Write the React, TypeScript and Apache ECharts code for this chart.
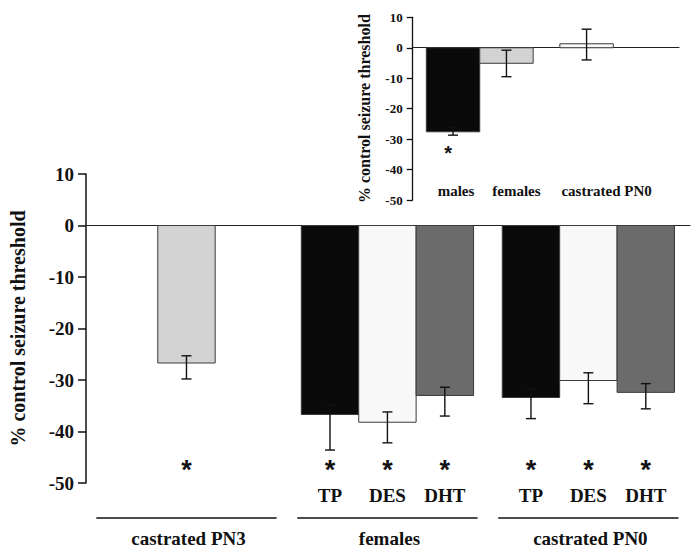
import React, { useEffect, useRef } from 'react';
import * as echarts from 'echarts';

// ---- main chart data ----
const mainGroups = ['castrated PN3', 'females', 'castrated PN0'];
const mainGroupOf = [0, 1, 1, 1, 2, 2, 2];
const mainTreatments = ['', 'TP', 'DES', 'DHT', 'TP', 'DES', 'DHT'];
const mainValues = [-26.7, -36.7, -38.2, -33.0, -33.4, -30.1, -32.4];
const mainErrLow = [-29.8, -43.6, -42.2, -37.0, -37.5, -34.6, -35.6];
const mainErrHigh = [-25.3, -34.8, -36.2, -31.4, -31.7, -28.6, -30.7];
const mainStars = [true, true, true, true, true, true, true];
const mainYTicks = [-50, -40, -30, -20, -10, 0, 10];

// ---- inset data ----
const insetCategories = ['males', 'females', 'castrated PN0'];
const insetValues = [-27.6, -5.1, 1.3];
const insetErrLow = [-28.7, -9.5, -4.0];
const insetErrHigh = [-26.3, -0.8, 6.1];
const insetStars = [true, false, false];
const insetYTicks = [-50, -40, -30, -20, -10, 0, 10];

// ---- styles / layout ----
const FONT = '"Liberation Serif", "Times New Roman", serif';
const STAR_FONT = '"Liberation Sans", Arial, sans-serif';
const TEXT = '#111';
const treatmentColor: Record<string, string> = { '': '#d3d3d3', TP: '#0a0a0a', DES: '#f8f8f8', DHT: '#6b6b6b' };
const insetColors = ['#0a0a0a', '#d3d3d3', '#fafafa'];
const groupGapBefore = [0, 2.5, 1.5];
const insetSlot = [0, 1, 2.5];
const insetLabelShift = [3, 10, 20];

export default function App() {
  const ref = useRef<HTMLDivElement>(null);
  useEffect(() => {
    document.body.style.margin = '0';
    document.body.style.overflow = 'hidden';
    const chart = echarts.init(ref.current!, null, { renderer: 'svg' });

    const mainX: number[] = [];
    let cur = 0;
    mainValues.forEach((_, i) => {
      if (i === 0) cur = 0;
      else if (mainGroupOf[i] !== mainGroupOf[i - 1]) cur += groupGapBefore[mainGroupOf[i]];
      else cur += 1;
      mainX.push(cur);
    });
    const groupCenters = mainGroups.map((_, g) => {
      const xs = mainX.filter((__, i) => mainGroupOf[i] === g);
      return (Math.min(...xs) + Math.max(...xs)) / 2;
    });

    const barRender = (colors: string[]) => (params: any, api: any) => {
      const x = api.value(0);
      const v = api.value(1);
      const p0 = api.coord([x - 0.5, 0]);
      const p1 = api.coord([x + 0.5, v]);
      return {
        type: 'rect',
        shape: {
          x: Math.min(p0[0], p1[0]),
          y: Math.min(p0[1], p1[1]),
          width: Math.abs(p1[0] - p0[0]),
          height: Math.abs(p1[1] - p0[1]),
        },
        style: { fill: colors[params.dataIndex], stroke: '#3a3a3a', lineWidth: 1 },
      };
    };
    const errRender = (cap: number) => (_: any, api: any) => {
      const x = api.value(0);
      const lo = api.coord([x, api.value(1)]);
      const hi = api.coord([x, api.value(2)]);
      const ls = { stroke: '#111', lineWidth: 1.4 };
      return {
        type: 'group',
        children: [
          { type: 'line', shape: { x1: lo[0], y1: lo[1], x2: hi[0], y2: hi[1] }, style: ls },
          { type: 'line', shape: { x1: lo[0] - cap, y1: lo[1], x2: lo[0] + cap, y2: lo[1] }, style: ls },
          { type: 'line', shape: { x1: hi[0] - cap, y1: hi[1], x2: hi[0] + cap, y2: hi[1] }, style: ls },
        ],
      };
    };
    const textEl = (x: number, y: number, text: string, size: number, family = FONT) => ({
      type: 'text',
      x,
      y,
      style: {
        text,
        fill: TEXT,
        fontSize: size,
        fontWeight: 'bold',
        fontFamily: family,
        align: 'center',
        verticalAlign: 'middle',
      },
    });

    const mainColors = mainTreatments.map((t) => treatmentColor[t]);

    const yAxisBase = (size: number, tick: number, lw: number, margin: number) => ({
      type: 'value',
      interval: 10,
      nameLocation: 'middle',
      nameRotate: 90,
      axisLine: { show: true, onZero: false, lineStyle: { color: '#111', width: lw } },
      axisTick: { show: true, length: tick, lineStyle: { color: '#111', width: lw } },
      axisLabel: { fontFamily: FONT, fontWeight: 'bold', fontSize: size, color: TEXT, margin },
      splitLine: { show: false },
    });

    const option: any = {
      animation: false,
      grid: [
        { left: 80, top: 174, width: 610, height: 309 },
        { left: 412.7, top: 17.3, width: 266.3, height: 182.7 },
      ],
      xAxis: [
        {
          gridIndex: 0, type: 'value', min: -1.75, max: 8.77,
          axisLine: { show: true, onZero: true, lineStyle: { color: '#222', width: 1.2 } },
          axisTick: { show: false }, axisLabel: { show: false }, splitLine: { show: false },
        },
        {
          gridIndex: 1, type: 'value', min: -0.755, max: 4.23,
          axisLine: { show: true, onZero: true, lineStyle: { color: '#222', width: 1.2 } },
          axisTick: { show: false }, axisLabel: { show: false }, splitLine: { show: false },
        },
      ],
      yAxis: [
        {
          ...yAxisBase(19, 8, 1.5, 12),
          gridIndex: 0, min: mainYTicks[0], max: mainYTicks[mainYTicks.length - 1],
          name: '% control seizure threshold', nameGap: 58,
          nameTextStyle: { fontFamily: FONT, fontWeight: 'bold', fontSize: 20, color: TEXT },
        },
        {
          ...yAxisBase(13, 6, 1.3, 10),
          gridIndex: 1, min: insetYTicks[0], max: insetYTicks[insetYTicks.length - 1],
          name: '% control seizure threshold', nameGap: 40,
          nameTextStyle: { fontFamily: FONT, fontWeight: 'bold', fontSize: 16, color: TEXT },
        },
      ],
      series: [
        {
          type: 'custom', xAxisIndex: 0, yAxisIndex: 0,
          data: mainValues.map((v, i) => [mainX[i], v]),
          renderItem: barRender(mainColors), z: 2,
        },
        {
          type: 'custom', xAxisIndex: 0, yAxisIndex: 0,
          data: mainValues.map((_, i) => [mainX[i], mainErrLow[i], mainErrHigh[i]]),
          renderItem: errRender(5), z: 3,
        },
        {
          type: 'custom', xAxisIndex: 0, yAxisIndex: 0, clip: false,
          data: mainValues.map((_, i) => [mainX[i], i]),
          renderItem: (params: any, api: any) => {
            const i = params.dataIndex;
            const x = api.value(0);
            const children: any[] = [];
            if (mainStars[i]) {
              const p = api.coord([x, -46.6]);
              children.push(textEl(p[0], p[1] + 5, '*', 27, STAR_FONT));
            }
            if (mainTreatments[i]) {
              const p = api.coord([x, -52.4]);
              children.push(textEl(p[0], p[1], mainTreatments[i], 19));
            }
            return { type: 'group', children };
          },
          z: 4,
        },
        {
          type: 'custom', xAxisIndex: 0, yAxisIndex: 0, clip: false,
          data: mainGroups.map((_, g) => [groupCenters[g], g]),
          renderItem: (params: any, api: any) => {
            const g = params.dataIndex;
            const c = api.value(0);
            const a = api.coord([c - 1.57, -56.8]);
            const b = api.coord([c + 1.57, -56.8]);
            const t = api.coord([c, -60.8]);
            return {
              type: 'group',
              children: [
                { type: 'line', shape: { x1: a[0], y1: a[1], x2: b[0], y2: b[1] }, style: { stroke: '#111', lineWidth: 1.5 } },
                textEl(t[0] + 2, t[1], mainGroups[g], 19),
              ],
            };
          },
          z: 4,
        },
        // inset
        {
          type: 'custom', xAxisIndex: 1, yAxisIndex: 1,
          data: insetValues.map((v, i) => [insetSlot[i], v]),
          renderItem: barRender(insetColors), z: 2,
        },
        {
          type: 'custom', xAxisIndex: 1, yAxisIndex: 1,
          data: insetValues.map((_, i) => [insetSlot[i], insetErrLow[i], insetErrHigh[i]]),
          renderItem: errRender(5), z: 3,
        },
        {
          type: 'custom', xAxisIndex: 1, yAxisIndex: 1, clip: false,
          data: insetValues.map((_, i) => [insetSlot[i], i]),
          renderItem: (params: any, api: any) => {
            const i = params.dataIndex;
            const x = api.value(0);
            const children: any[] = [];
            if (insetStars[i]) {
              const p = api.coord([x, -33.3]);
              children.push(textEl(p[0] - 5, p[1] + 4, '*', 20, STAR_FONT));
            }
            const q = api.coord([x, -47.0]);
            children.push(textEl(q[0] + insetLabelShift[i], q[1], insetCategories[i], 15));
            return { type: 'group', children };
          },
          z: 4,
        },
      ],
    };
    chart.setOption(option);
    return () => chart.dispose();
  }, []);
  return <div ref={ref} style={{ width: 700, height: 556, background: '#fff' }} />;
}
